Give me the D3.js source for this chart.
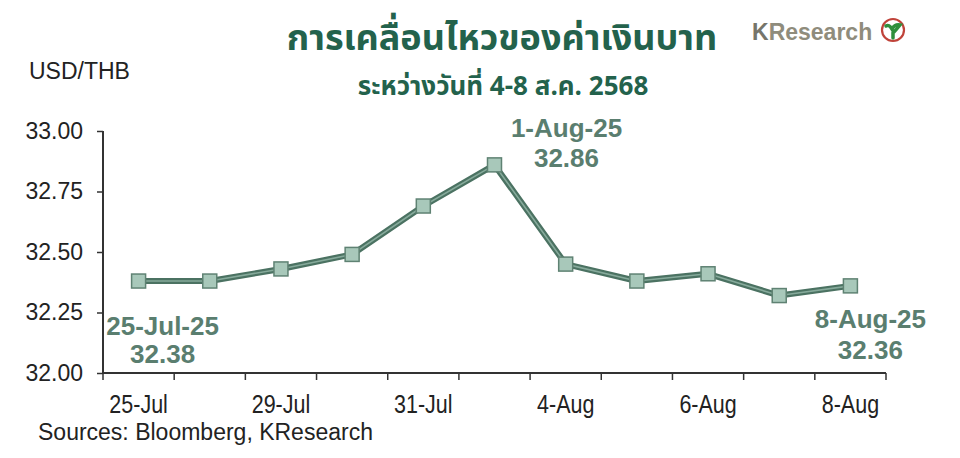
<!DOCTYPE html>
<html><head><meta charset="utf-8">
<script src="https://cdn.jsdelivr.net/npm/d3@7/dist/d3.min.js"></script>
<style>
html,body{margin:0;padding:0;background:#fff;}
svg{display:block;}
</style></head>
<body>
<svg id="chart" width="960" height="458"></svg>
<script>
const categories = ["25-Jul","28-Jul","29-Jul","30-Jul","31-Jul","1-Aug","4-Aug","5-Aug","6-Aug","7-Aug","8-Aug"];
const values = [32.38,32.38,32.43,32.49,32.69,32.86,32.45,32.38,32.41,32.32,32.36];
const yTicks = [32.00,32.25,32.50,32.75,33.00];
const xTickLabels = ["25-Jul","29-Jul","31-Jul","4-Aug","6-Aug","8-Aug"];
const annotations = [
  {category:"25-Jul", label:"25-Jul-25"},
  {category:"1-Aug", label:"1-Aug-25"},
  {category:"8-Aug", label:"8-Aug-25"}
];
const titleText = "การเคลื่อนไหวของค่าเงินบาท";
const subtitleText = "ระหว่างวันที่ 4-8 ส.ค. 2568";
const yTitleText = "USD/THB";
const sourceText = "Sources: Bloomberg, KResearch";

(function(){
const svg = d3.select("#chart");
const mL = 103, mR = 886, mT = 131, mB = 373;

const x = d3.scaleBand().domain(categories).range([mL, mR]).padding(0);
const y = d3.scaleLinear().domain([32, 33]).range([mB, mT]);

const thai = "'Noto Sans Thai','Noto Sans Thai Looped','Loma','Garuda','Tlwg Typo','Norasi','Noto Sans',sans-serif";
const sans = "'Liberation Sans',Arial,sans-serif";
const green = "#23624c";
const annColor = "#5a7e6f";

// Title
svg.append("text").attr("x", 502).attr("y", 50).attr("text-anchor","middle")
  .attr("font-family", thai).attr("font-weight","bold").attr("font-size", 36)
  .attr("fill", green).text(titleText);
svg.append("text").attr("x", 503).attr("y", 95).attr("text-anchor","middle")
  .attr("font-family", thai).attr("font-weight","bold").attr("font-size", 26)
  .attr("fill", green).text(subtitleText);

// Logo
const logo = svg.append("g");
const lt = logo.append("text").attr("x", 752).attr("y", 40)
  .attr("font-family", sans).attr("font-size", 23);
lt.append("tspan").attr("font-weight","bold").attr("fill","#76756a").text("K");
lt.append("tspan").attr("fill","#8f8c7c").attr("font-weight","bold").text("Research");
logo.append("circle").attr("cx", 893).attr("cy", 30).attr("r", 11)
  .attr("fill","#fff").attr("stroke","#c0433a").attr("stroke-width", 2.2);
logo.append("path").attr("d","M886,26 Q889,24 892,29 Q895,24 900,25 Q896,30 893,33 L893,38")
  .attr("fill","none").attr("stroke","#2f8f3c").attr("stroke-width", 3.5).attr("stroke-linecap","round");

// Y title
svg.append("text").attr("x", 29).attr("y", 79)
  .attr("font-family", sans).attr("font-size", 23)
  .attr("fill","#222").text(yTitleText);

// Y axis
const yAxis = svg.append("g").attr("transform", `translate(${mL},0)`)
  .call(d3.axisLeft(y).tickValues(yTicks).tickFormat(d3.format(".2f")).tickSize(6).tickPadding(14));
yAxis.select(".domain").attr("stroke","#333").attr("stroke-width",2).attr("d", `M0,${mT}V${mB}`);
yAxis.selectAll(".tick line").attr("stroke","#333").attr("stroke-width",1.5);
yAxis.selectAll(".tick text").attr("font-family", sans)
  .attr("font-size", 23).attr("fill","#222");

// X axis
const boundaries = categories.map(c => x(c)).concat([x(categories[categories.length-1]) + x.bandwidth()]);
const xg = svg.append("g");
xg.append("line").attr("x1", mL).attr("x2", mR).attr("y1", mB).attr("y2", mB)
  .attr("stroke","#333").attr("stroke-width",2);
xg.selectAll("line.tk").data(boundaries).join("line").attr("class","tk")
  .attr("x1", d=>d).attr("x2", d=>d).attr("y1", mB).attr("y2", mB+7)
  .attr("stroke","#333").attr("stroke-width",1.5);
xg.selectAll("text").data(xTickLabels).join("text")
  .attr("transform", d => `translate(${x(d) + x.bandwidth()/2},413) scale(0.86,1)`)
  .attr("text-anchor","middle")
  .attr("font-family", sans)
  .attr("font-size", 25).attr("fill","#222").text(d=>d);

// Line
const pts = categories.map((c,i) => ({c, v: values[i]}));
const line = d3.line().x(d => x(d.c) + x.bandwidth()/2).y(d => y(d.v));
svg.append("path").datum(pts).attr("d", line).attr("fill","none")
  .attr("stroke","#4b7262").attr("stroke-width",6).attr("stroke-linejoin","round");
svg.append("path").datum(pts).attr("d", line).attr("fill","none")
  .attr("stroke","#86aa9b").attr("stroke-width",1.6).attr("stroke-linejoin","round");

// Markers
const ms = 14;
svg.selectAll("rect.mk").data(pts).join("rect").attr("class","mk")
  .attr("x", d => x(d.c) + x.bandwidth()/2 - ms/2).attr("y", d => y(d.v) - ms/2)
  .attr("width", ms).attr("height", ms)
  .attr("fill","#a8c8ba").attr("stroke","#5f8273").attr("stroke-width",1.5);

// Annotations
const annOffsets = {"25-Jul":[24,54,82], "1-Aug":[72,-28,2], "8-Aug":[20,42,73]};
annotations.forEach(a => {
  const i = categories.indexOf(a.category);
  const cx = x(a.category) + x.bandwidth()/2, cy = y(values[i]);
  const o = annOffsets[a.category];
  const t = svg.append("text").attr("text-anchor","middle")
    .attr("font-family", sans).attr("font-weight","bold")
    .attr("font-size", 26).attr("fill", annColor);
  t.append("tspan").attr("x", cx + o[0]).attr("y", cy + o[1]).text(a.label);
  t.append("tspan").attr("x", cx + o[0]).attr("y", cy + o[2]).text(values[i].toFixed(2));
});

// Source
svg.append("text").attr("x", 38).attr("y", 440)
  .attr("font-family", sans)
  .attr("font-size", 23).attr("fill","#222").text(sourceText);
})();
</script>
</body></html>
